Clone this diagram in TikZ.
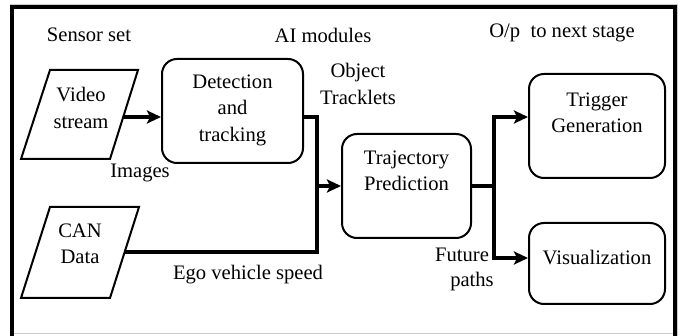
\documentclass[tikz,border=0pt]{standalone}
\usepackage{fontspec}
\setmainfont{Liberation Serif}
\newfontfamily\figserif{Liberation Serif}
\usetikzlibrary{arrows.meta}
\begin{document}
\begin{tikzpicture}[x=1pt,y=-1pt,
  every node/.style={font=\figserif\fontsize{20.6}{26.5}\selectfont, inner sep=0pt, align=center},
  box/.style={draw, line width=2pt, rounded corners=15pt, rectangle},
  para/.style={draw, line width=2pt, line join=miter},
  wire/.style={line width=4pt, line join=miter},
  arr/.style={wire, -{Stealth[length=14pt,width=13pt,inset=3pt]}}]
\useasboundingbox (0,0) rectangle (682,336);
% frame
\draw[gray!40, line width=1pt] (10,336) -- (10,5) -- (677,5) -- (677,336);
\draw[gray!40, line width=1pt] (10,333) -- (677,333);
\draw[line width=4pt, line join=miter] (12,336) -- (12,7) -- (675,7) -- (675,336);
% headers
\node (hs) at (89,35) {Sensor set};
\node (ha) at (323,35) {AI modules};
\node (ho) at (562,33) {O/p\ \ to next stage};
% parallelograms
\draw[para] (50,70) -- (138,70) -- (110,159) -- (21,159) -- cycle;
\draw[para] (50,207) -- (139,207) -- (110,298) -- (21,298) -- cycle;
\node (vid) at (81,108) {Video\\stream};
\node (can) at (80,244) {CAN\\Data};
\coordinate (vidR) at (123,117);
\coordinate (canR) at (124,252);
% boxes
\node[box, minimum width=141pt, minimum height=104pt] (det) at (232.5,111) {};
\node[box, minimum width=129pt, minimum height=104pt] (traj) at (406.5,186) {};
\node[box, minimum width=136pt, minimum height=104pt] (trig) at (597,126) {};
\node[box, minimum width=136pt, minimum height=81pt] (vis) at (597,263.5) {};
\node (detT) at (232.5,110) {Detection\\and\\tracking};
\node (trajT) at (406.5,171) {Trajectory\\Prediction};
\node (trigT) at (597,113) {Trigger\\Generation};
\node (visT) at (597,258) {Visualization};
% labels
\node (lobj) at (358,84) {Object\\Tracklets};
\node (limg) at (140,173) {Images};
\node (lego) at (248,275) {Ego vehicle speed};
\node (lfut) at (462,255) {Future};
\node (lpat) at (472,282) {paths};
% connectors
\coordinate (j1) at (317,117);
\coordinate (j2) at (317,186);
\coordinate (j3) at (494,186);
\coordinate (tA) at (0,117);
\coordinate (vA) at (0,258);
\draw[arr] (vidR) -- (vidR -| det.west);
\draw[arr] (det.east |- j1) -- (j1) |- (traj.west);
\draw[wire] (canR) -| (j2);
\draw[wire] (traj.east) -- (j3);
\draw[arr] (j3) |- (trig.west |- tA);
\draw[arr] (j3) |- (vis.west |- vA);
\end{tikzpicture}
\end{document}
